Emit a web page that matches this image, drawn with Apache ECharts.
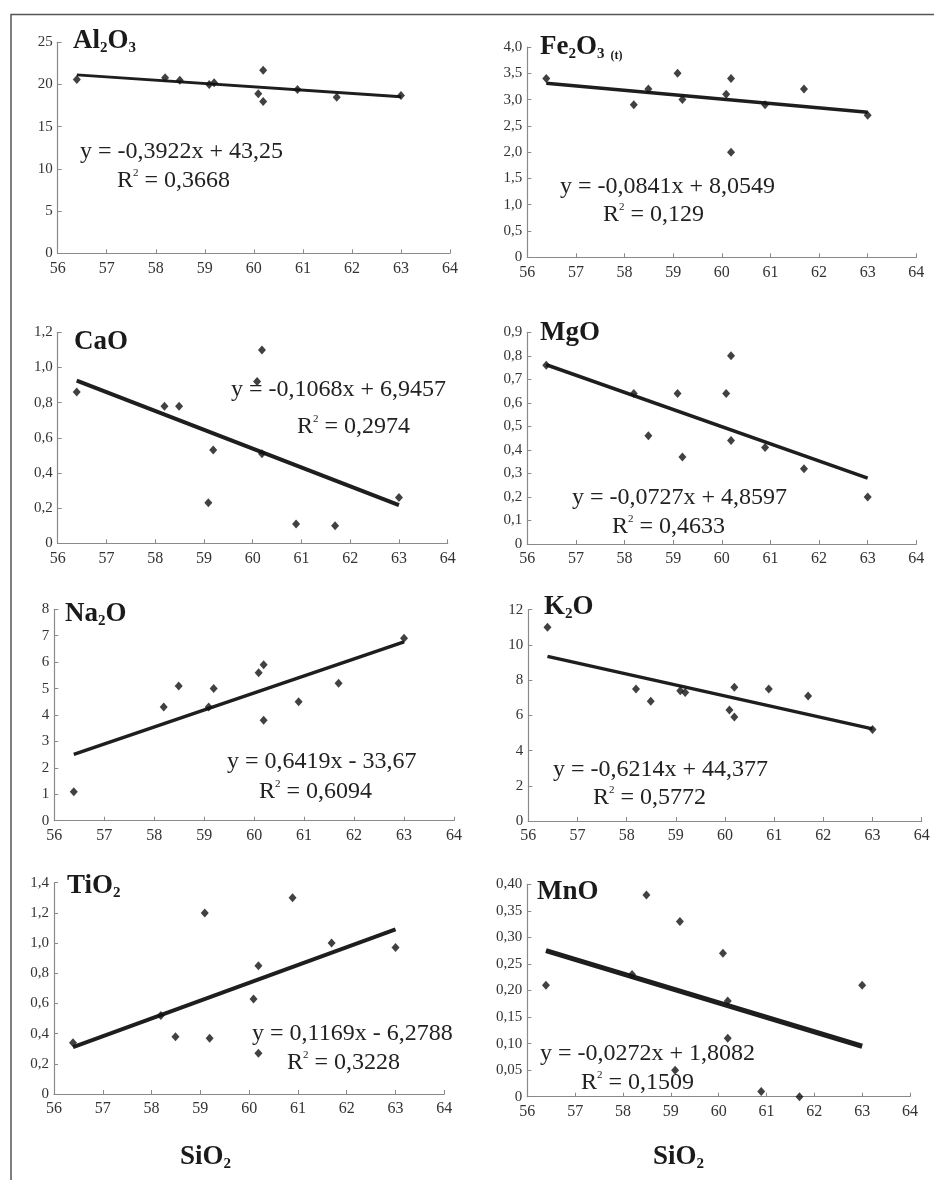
<!DOCTYPE html>
<html>
<head>
<meta charset="utf-8">
<script src="https://cdn.jsdelivr.net/npm/echarts@6/dist/echarts.min.js"></script>
<style>
html,body{margin:0;padding:0;background:#fff;}
#chart{width:934px;height:1180px;}
</style>
</head>
<body>
<div id="chart"></div>
<script>
// ---- data ----
const sio2 = [56.39, 58.19, 58.49, 59.09, 59.19, 60.09, 60.19, 60.19, 60.89, 61.69, 63.0];
const al2o3 = [20.6, 20.8, 20.5, 20.0, 20.2, 18.9, 21.7, 18.0, 19.4, 18.5, 18.7];
const fe2o3 = [3.4, 2.9, 3.2, 3.5, 3.0, 3.1, 3.4, 2.0, 2.9, 3.2, 2.7];
const cao = [0.86, 0.78, 0.78, 0.23, 0.53, 0.92, 1.10, 0.51, 0.11, 0.10, 0.26];
const mgo = [0.76, 0.64, 0.46, 0.64, 0.37, 0.64, 0.80, 0.44, 0.41, 0.32, 0.20];
const na2o = [1.1, 4.3, 5.1, 4.3, 5.0, 5.6, 5.9, 3.8, 4.5, 5.2, 6.9];
const k2o = [11.0, 7.5, 6.8, 7.4, 7.3, 6.3, 7.6, 5.9, 7.5, 7.1, 5.2];
const tio2 = [0.34, 0.52, 0.38, 1.20, 0.37, 0.63, 0.85, 0.27, 1.30, 1.00, 0.97];
const mno = [0.21, 0.23, 0.38, 0.05, 0.33, 0.27, 0.18, 0.11, 0.01, 0.00, 0.21];

// trend line end points (x from / to, y from / to)
const trendX = [56.39, 63.0];
const trendAl = [21.14, 18.54];
const trendFe = [3.31, 2.76];
const trendCa = [0.925, 0.217];
const trendMg = [0.762, 0.280];
const trendNa = [2.51, 6.77];
const trendK = [9.35, 5.23];
const trendTi = [0.31, 1.09];
const trendMn = [0.275, 0.095];

// axes
const xTicks = [56, 64, 1];
const yAxisMax = [25, 4.0, 1.2, 0.9, 8, 12, 1.4, 0.40];
const yAxisStep = [5, 0.5, 0.2, 0.1, 1, 2, 0.2, 0.05];
const yDecimals = [0, 1, 1, 1, 0, 0, 1, 2];

// texts
const eqTexts = [
  'y = -0,3922x + 43,25', 'y = -0,0841x + 8,0549',
  'y = -0,1068x + 6,9457', 'y = -0,0727x + 4,8597',
  'y = 0,6419x - 33,67', 'y = -0,6214x + 44,377',
  'y = 0,1169x - 6,2788', 'y = -0,0272x + 1,8082'
];
const r2Texts = ['0,3668', '0,129', '0,2974', '0,4633', '0,6094', '0,5772', '0,3228', '0,1509'];
const titleTexts = [
  '{b|Al}{s|2}{b|O}{s|3}', '{b|Fe}{s|2}{b|O}{s|3}{t|  (t)}',
  '{b|CaO}', '{b|MgO}',
  '{b|Na}{s|2}{b|O}', '{b|K}{s|2}{b|O}',
  '{b|TiO}{s|2}', '{b|MnO}'
];
const xAxisTitle = '{b|SiO}{s|2}';

const ySeries = [al2o3, fe2o3, cao, mgo, na2o, k2o, tio2, mno];
const trends = [trendAl, trendFe, trendCa, trendMg, trendNa, trendK, trendTi, trendMn];

// ---- layout ----
const grids = [
  {left: 57.7, top: 42.3, width: 392.3, height: 211},
  {left: 527.3, top: 47, width: 389, height: 210.3},
  {left: 57.7, top: 332.3, width: 390, height: 211},
  {left: 527.3, top: 332.3, width: 389, height: 211.7},
  {left: 54.3, top: 609.3, width: 399.7, height: 211.4},
  {left: 528.3, top: 609.7, width: 393.4, height: 211.3},
  {left: 54, top: 882.7, width: 390.3, height: 211.3},
  {left: 527.3, top: 884.3, width: 382.7, height: 212.4}
];
const lineWidths = [3, 3.5, 4, 3.5, 3.5, 3.5, 4, 5];
const titlePos = [[73, 41], [540, 47], [74, 342], [540, 333], [65, 614], [544, 607], [67, 886], [537, 892]];
const eqPos = [[80, 152], [560, 187], [231, 390], [572, 498], [227, 762], [553, 770], [252, 1034], [540, 1054]];
const r2Pos = [[117, 181], [603, 215], [297, 427], [612, 527], [259, 792], [593, 798], [287, 1063], [581, 1083]];

const FONT = '"Liberation Serif", "DejaVu Serif", serif';
const AX = '#8a8a8a';

const option = {
  backgroundColor: '#fff',
  animation: false,
  grid: grids.map(g => Object.assign({containLabel: false}, g)),
  xAxis: grids.map((g, i) => ({
    type: 'value', gridIndex: i, min: xTicks[0], max: xTicks[1], interval: xTicks[2],
    axisLine: {show: true, onZero: false, lineStyle: {color: AX, width: 1.2}},
    axisTick: {show: true, inside: true, length: 4, lineStyle: {color: AX}},
    splitLine: {show: false},
    axisLabel: {color: '#333', fontFamily: FONT, fontSize: 16, margin: 7}
  })),
  yAxis: grids.map((g, i) => ({
    type: 'value', gridIndex: i, min: 0, max: yAxisMax[i], interval: yAxisStep[i],
    axisLine: {show: true, onZero: false, lineStyle: {color: AX, width: 1.2}},
    axisTick: {show: true, inside: true, length: 4, lineStyle: {color: AX}},
    splitLine: {show: false},
    axisLabel: {
      color: '#333', fontFamily: FONT, fontSize: 15, margin: 5,
      formatter: v => (Math.abs(v) < 1e-9 ? '0' : v.toFixed(yDecimals[i]).replace('.', ','))
    }
  })),
  series: [],
  graphic: []
};

ySeries.forEach((arr, i) => {
  option.series.push({
    type: 'line', xAxisIndex: i, yAxisIndex: i, showSymbol: false, symbol: 'none',
    lineStyle: {color: '#1e1e1e', width: lineWidths[i]}, z: 2,
    data: [[trendX[0], trends[i][0]], [trendX[1], trends[i][1]]]
  });
  option.series.push({
    type: 'scatter', xAxisIndex: i, yAxisIndex: i, symbol: 'diamond', symbolSize: [8, 9],
    clip: false, itemStyle: {color: '#111'}, z: 3,
    data: sio2.map((x, k) => [x, arr[k]])
  });
});

const titleRich = {
  b: {fontFamily: FONT, fontWeight: 'bold', fontSize: 27, fill: '#1a1a1a', lineHeight: 30},
  s: {fontFamily: FONT, fontWeight: 'bold', fontSize: 15, fill: '#1a1a1a', lineHeight: 13, verticalAlign: 'bottom'},
  t: {fontFamily: FONT, fontWeight: 'bold', fontSize: 12, fill: '#1a1a1a', lineHeight: 13, verticalAlign: 'bottom'}
};
const eqRich = {
  n: {fontFamily: FONT, fontSize: 24, fill: '#222', lineHeight: 26},
  p: {fontFamily: FONT, fontSize: 11, fill: '#222', lineHeight: 12, verticalAlign: 'top'}
};

const G = option.graphic;
// frame
G.push({type: 'polyline', shape: {points: [[11, 1180], [11, 14.5], [934, 14.5]]},
  style: {stroke: '#555', lineWidth: 1.5, fill: null}, silent: true});

titleTexts.forEach((t, i) => {
  G.push({type: 'text', x: titlePos[i][0], y: titlePos[i][1],
    style: {text: t, rich: titleRich, align: 'left', verticalAlign: 'middle'}, z: 10});
  G.push({type: 'text', x: eqPos[i][0], y: eqPos[i][1],
    style: {text: '{n|' + eqTexts[i] + '}', rich: eqRich, align: 'left', verticalAlign: 'middle'}, z: 10});
  G.push({type: 'text', x: r2Pos[i][0], y: r2Pos[i][1],
    style: {text: '{n|R}{p|2}{n| = ' + r2Texts[i] + '}', rich: eqRich, align: 'left', verticalAlign: 'middle'}, z: 10});
});
[[180, 1157], [653, 1157]].forEach(p => {
  G.push({type: 'text', x: p[0], y: p[1],
    style: {text: xAxisTitle, rich: titleRich, align: 'left', verticalAlign: 'middle'}, z: 10});
});

const chart = echarts.init(document.getElementById('chart'), null, {renderer: 'canvas'});
chart.setOption(option);
</script>
</body>
</html>
